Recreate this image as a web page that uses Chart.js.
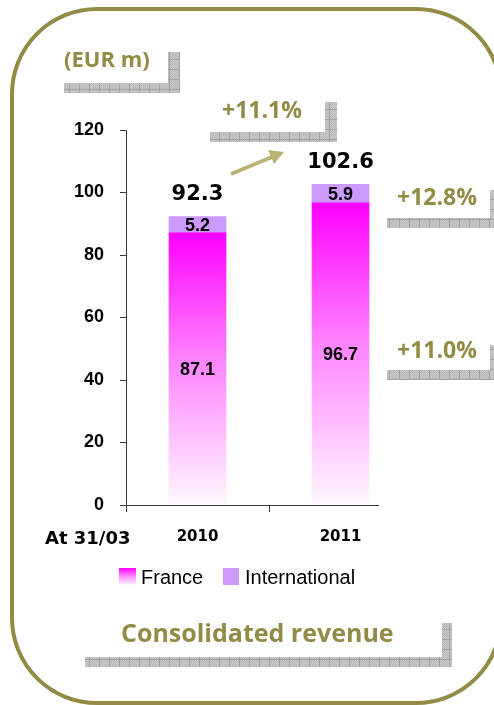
<!DOCTYPE html>
<html>
<head>
<meta charset="utf-8">
<script src="https://cdn.jsdelivr.net/npm/chart.js@4.4.1/dist/chart.umd.min.js"></script>
<style>
  html, body { margin: 0; padding: 0; background: #ffffff; }
  #wrap { position: relative; width: 494px; height: 705px; overflow: hidden; }
  canvas { display: block; }
</style>
</head>
<body>
<div id="wrap"><canvas id="c" width="494" height="705"></canvas></div>
<script>
// ---- data ----
const years = ['2010', '2011'];
const france = [87.1, 96.7];
const international = [5.2, 5.9];
const totals = [92.3, 102.6];
const seriesNames = ['France', 'International'];
const yTickValues = [0, 20, 40, 60, 80, 100, 120];
const unitLabel = '(EUR m)';
const xAxisCaption = 'At 31/03';
const growthTotal = '+11.1%';
const growthInternational = '+12.8%';
const growthFrance = '+11.0%';
const chartTitle = 'Consolidated revenue';

// ---- styles ----
const OLIVE = '#928B45';
const MAGENTA = '#FF00FF';
const LILAC = '#CC99FF';
const AXIS = '#3a3a3a';

function makeHatch(ctx) {
  const t = document.createElement('canvas');
  t.width = 10; t.height = 10;
  const g = t.getContext('2d');
  g.fillStyle = '#C9C9C9'; g.fillRect(0, 0, 10, 10);
  g.fillStyle = '#B9B9B9';
  for (let y = 0; y < 10; y++) for (let x = 0; x < 10; x++) if ((x + y) % 2 === 0) g.fillRect(x, y, 1, 1);
  g.fillStyle = '#A2A2A2';
  g.fillRect(9, 0, 1, 10);
  g.fillRect(0, 9, 10, 1);
  return ctx.createPattern(t, 'repeat');
}

function franceGradient(ctx2d, top, bottom) {
  const g = ctx2d.createLinearGradient(0, top, 0, bottom);
  g.addColorStop(0, MAGENTA);
  g.addColorStop(0.45, '#FF80FF');
  g.addColorStop(1, '#FFF8FF');
  return g;
}

const decor = {
  id: 'decor',
  beforeDraw(chart) {
    const c = chart.ctx;
    c.save();
    c.strokeStyle = OLIVE;
    c.lineWidth = 4;
    c.beginPath();
    c.roundRect(12, 9, 489, 694, 85);
    c.stroke();
    const hatch = makeHatch(c);
    c.fillStyle = hatch;
    const rects = [
      [64, 83, 116, 10], [168, 52, 12, 41],
      [210, 132, 127, 10], [325, 102, 12, 40],
      [387, 218, 110, 10], [490, 190, 10, 38],
      [387, 370, 110, 10], [490, 345, 10, 35],
      [85, 657, 367, 10], [442, 623, 10, 44]
    ];
    rects.forEach(r => c.fillRect(r[0], r[1], r[2], r[3]));
    c.restore();
  },
  afterDraw(chart) {
    const c = chart.ctx;
    c.save();
    c.fillStyle = OLIVE;
    c.textBaseline = 'alphabetic';
    c.textAlign = 'left';
    c.font = 'bold 22px "Open Sans"';
    c.fillText(unitLabel, 64, 67);
    c.font = 'bold 23px "Open Sans"';
    c.fillText(growthTotal, 222, 118);
    c.fillText(growthInternational, 397, 205);
    c.fillText(growthFrance, 397, 358);
    c.font = 'bold 25px "Open Sans"';
    c.fillText(chartTitle, 121, 642);

    c.fillStyle = '#000';
    c.font = 'bold 18px "DejaVu Sans"';
    c.fillText(xAxisCaption, 45, 544);

    c.strokeStyle = '#B9B474';
    c.fillStyle = '#B9B474';
    c.lineWidth = 4;
    c.beginPath();
    c.moveTo(231, 174);
    c.lineTo(272, 157);
    c.stroke();
    c.beginPath();
    c.moveTo(284, 152);
    c.lineTo(268, 150);
    c.lineTo(274, 164);
    c.closePath();
    c.fill();

    const ly = 568;
    c.fillStyle = franceGradient(c, ly, ly + 17);
    c.fillRect(119, ly, 17, 17);
    c.fillStyle = LILAC;
    c.fillRect(223, ly, 16, 17);
    c.fillStyle = '#000';
    c.font = '20px "Liberation Sans"';
    c.textBaseline = 'middle';
    c.fillText(seriesNames[0], 141, ly + 10);
    c.fillText(seriesNames[1], 245, ly + 10);
    c.restore();
  },
  afterDatasetsDraw(chart) {
    const c = chart.ctx;
    c.save();
    c.textAlign = 'center';
    c.textBaseline = 'middle';
    c.fillStyle = '#000';
    c.font = 'bold 18px "Liberation Sans"';
    chart.data.datasets.forEach((ds, di) => {
      chart.getDatasetMeta(di).data.forEach((bar, i) => {
        c.fillText(ds.data[i].y.toFixed(1), bar.x, (bar.y + bar.base) / 2 + 1);
      });
    });
    const top = chart.getDatasetMeta(1).data;
    c.font = 'bold 21px "DejaVu Sans"';
    top.forEach((bar, i) => {
      c.fillText(totals[i].toFixed(1), bar.x, bar.y - 22);
    });
    c.restore();
  }
};

new Chart(document.getElementById('c'), {
  type: 'bar',
  data: {
    datasets: [
      {
        label: seriesNames[0],
        data: france.map((v, i) => ({ x: i, y: v })),
        backgroundColor: (ctx) => {
          const chart = ctx.chart;
          const area = chart.chartArea;
          if (!area || ctx.type !== 'data') return MAGENTA;
          const top = chart.scales.y.getPixelForValue(france[ctx.dataIndex]);
          return franceGradient(chart.ctx, top, area.bottom);
        },
        borderWidth: 0
      },
      {
        label: seriesNames[1],
        data: international.map((v, i) => ({ x: i, y: v })),
        backgroundColor: LILAC,
        borderWidth: 0
      }
    ]
  },
  options: {
    responsive: false,
    animation: false,
    devicePixelRatio: 1,
    layout: { padding: { top: 130, right: 116, left: 0, bottom: 0 } },
    datasets: { bar: { barThickness: 57 } },
    plugins: { legend: { display: false }, tooltip: { enabled: false } },
    scales: {
      x: {
        type: 'linear',
        stacked: true,
        offset: false,
        min: -0.5,
        max: 1.262,
        afterBuildTicks: (s) => { s.ticks = [-0.5, 0, 0.5, 1].map(v => ({ value: v })); },
        afterFit: (s) => { s.height = 200; },
        border: { display: true, color: AXIS, width: 1 },
        grid: {
          offset: false,
          drawOnChartArea: false,
          drawTicks: true,
          tickLength: 7,
          tickColor: (ctx) => (ctx.tick && !Number.isInteger(ctx.tick.value)) ? AXIS : 'rgba(0,0,0,0)'
        },
        ticks: {
          autoSkip: false,
          maxRotation: 0,
          padding: 16,
          color: '#000',
          font: { family: 'DejaVu Sans', weight: 'bold', size: 15 },
          callback: (v) => Number.isInteger(v) ? years[v] : ''
        }
      },
      y: {
        stacked: true,
        min: 0,
        max: 120,
        afterBuildTicks: (s) => { s.ticks = yTickValues.map(v => ({ value: v })); },
        afterFit: (s) => { s.width = 126; },
        border: { display: true, color: AXIS, width: 1 },
        grid: { drawOnChartArea: false, drawTicks: true, tickLength: 6, tickColor: AXIS },
        ticks: {
          padding: 16,
          color: '#000',
          font: { family: 'Liberation Sans', weight: 'bold', size: 18 }
        }
      }
    }
  },
  plugins: [decor]
});
</script>
</body>
</html>
